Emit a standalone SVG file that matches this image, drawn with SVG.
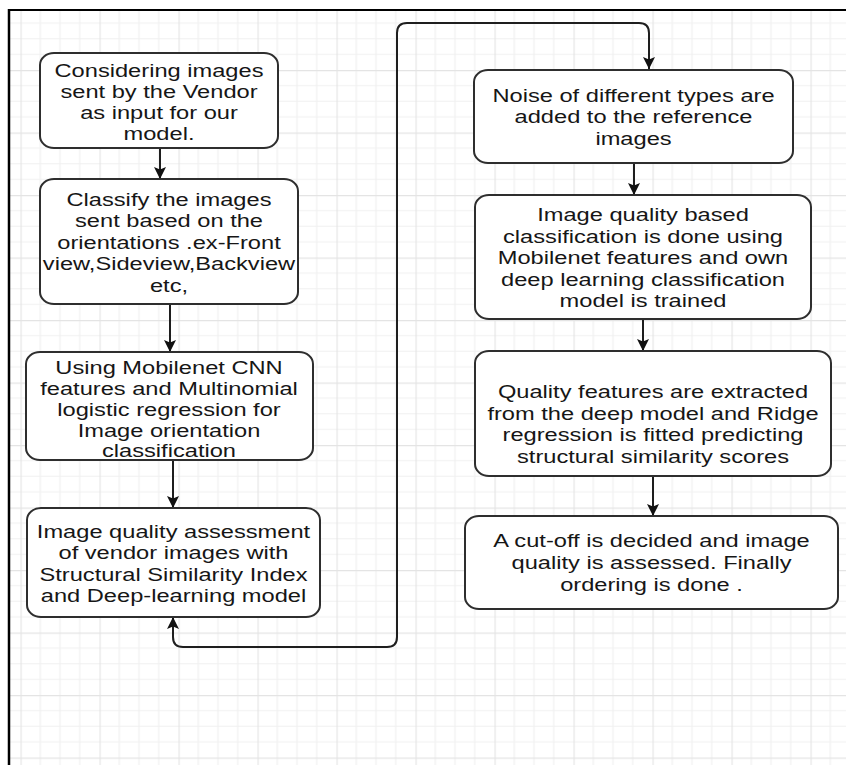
<svg xmlns="http://www.w3.org/2000/svg" width="846" height="765" viewBox="0 0 846 765">
<style>
.box{fill:#fff;stroke:#2e2e2e;stroke-width:2}
.lbl{font-family:"Liberation Sans",Arial,Helvetica,sans-serif;font-size:18.7px;fill:#161616;text-anchor:middle}
.con{fill:none;stroke:#1e1e1e;stroke-width:2}
</style>
<defs>
<pattern id="grid" x="20.5" y="7.5" width="79" height="62.5" patternUnits="userSpaceOnUse">
<g stroke="#f0f0f0" stroke-width="1.2">
<line x1="19.75" y1="0" x2="19.75" y2="62.5"/><line x1="39.5" y1="0" x2="39.5" y2="62.5"/><line x1="59.25" y1="0" x2="59.25" y2="62.5"/>
<line x1="0" y1="15.625" x2="79" y2="15.625"/><line x1="0" y1="31.25" x2="79" y2="31.25"/><line x1="0" y1="46.875" x2="79" y2="46.875"/>
</g>
<g stroke="#e4e4e4" stroke-width="1.3">
<line x1="0.5" y1="0" x2="0.5" y2="62.5"/><line x1="0" y1="0.5" x2="79" y2="0.5"/>
</g>
</pattern>
<marker id="arr" viewBox="0 0 12 12" refX="12" refY="6" markerWidth="12" markerHeight="12" markerUnits="userSpaceOnUse" orient="auto-start-reverse">
<path d="M0,0 L12,6 L0,12 L2.5,6 Z" fill="#111"/>
</marker>
</defs>
<rect x="0" y="0" width="846" height="765" fill="#fff"/>
<rect x="10" y="11" width="836" height="754" fill="url(#grid)"/>
<line x1="8" y1="10" x2="846" y2="10" stroke="#000" stroke-width="2"/>
<line x1="9" y1="9" x2="9" y2="765" stroke="#000" stroke-width="2.5"/>

<g id="connectors">
<line class="con" x1="160" y1="148" x2="160" y2="179" marker-end="url(#arr)"/>
<line class="con" x1="170" y1="304" x2="170" y2="352" marker-end="url(#arr)"/>
<line class="con" x1="173" y1="460" x2="173" y2="508" marker-end="url(#arr)"/>
<line class="con" x1="634" y1="163" x2="634" y2="195" marker-end="url(#arr)"/>
<line class="con" x1="643" y1="319" x2="643" y2="351" marker-end="url(#arr)"/>
<line class="con" x1="653" y1="476" x2="653" y2="516" marker-end="url(#arr)"/>
<path class="con" d="M173,617 V637 Q173,647 183,647 H387 Q397,647 397,637 V33 Q397,23 407,23 H639 Q649,23 649,33 V69" marker-start="url(#arr)" marker-end="url(#arr)"/>
</g>

<g id="n1">
<rect class="box" x="40" y="53" width="238" height="95" rx="14" ry="12"/>
<text class="lbl" transform="translate(159 0) scale(1.265 1)"><tspan x="0" y="77.5">Considering images</tspan><tspan x="0" y="98.5">sent by the Vendor</tspan><tspan x="0" y="119.5">as input for our</tspan><tspan x="0" y="140.5">model.</tspan></text>
</g>
<g id="n2">
<rect class="box" x="40" y="179" width="258" height="125" rx="14" ry="12"/>
<text class="lbl" transform="translate(169 0) scale(1.265 1)"><tspan x="0" y="206">Classify the images</tspan><tspan x="0" y="227.5">sent based on the</tspan><tspan x="0" y="249">orientations .ex-Front</tspan><tspan x="0" y="270.5">view,Sideview,Backview</tspan><tspan x="0" y="292">etc,</tspan></text>
</g>
<g id="n3">
<rect class="box" x="26" y="352" width="287" height="108" rx="14" ry="12"/>
<text class="lbl" transform="translate(169 0) scale(1.265 1)"><tspan x="0" y="374">Using Mobilenet CNN</tspan><tspan x="0" y="395">features and Multinomial</tspan><tspan x="0" y="416">logistic regression for</tspan><tspan x="0" y="437">Image orientation</tspan><tspan x="0" y="457.5">classification</tspan></text>
</g>
<g id="n4">
<rect class="box" x="27" y="508" width="293" height="109" rx="14" ry="12"/>
<text class="lbl" transform="translate(173.5 0) scale(1.265 1)"><tspan x="0" y="538">Image quality assessment</tspan><tspan x="0" y="559.5">of vendor images with</tspan><tspan x="0" y="581">Structural Similarity Index</tspan><tspan x="0" y="602.5">and Deep-learning model</tspan></text>
</g>
<g id="n5">
<rect class="box" x="474" y="70" width="319" height="93" rx="14" ry="12"/>
<text class="lbl" transform="translate(633.5 0) scale(1.265 1)"><tspan x="0" y="102">Noise of different types are</tspan><tspan x="0" y="123.5">added to the reference</tspan><tspan x="0" y="145">images</tspan></text>
</g>
<g id="n6">
<rect class="box" x="475" y="195" width="336" height="124" rx="14" ry="12"/>
<text class="lbl" transform="translate(643 0) scale(1.265 1)"><tspan x="0" y="221.5">Image quality based</tspan><tspan x="0" y="243">classification is done using</tspan><tspan x="0" y="264.5">Mobilenet features and own</tspan><tspan x="0" y="286">deep learning classification</tspan><tspan x="0" y="307.5">model is trained</tspan></text>
</g>
<g id="n7">
<rect class="box" x="475" y="351" width="356" height="125" rx="14" ry="12"/>
<text class="lbl" transform="translate(653 0) scale(1.265 1)"><tspan x="0" y="398.5">Quality features are extracted</tspan><tspan x="0" y="420">from the deep model and Ridge</tspan><tspan x="0" y="441.5">regression is fitted predicting</tspan><tspan x="0" y="463.5">structural similarity scores</tspan></text>
</g>
<g id="n8">
<rect class="box" x="465" y="516" width="373" height="93" rx="14" ry="12"/>
<text class="lbl" transform="translate(651.5 0) scale(1.265 1)"><tspan x="0" y="547">A cut-off is decided and image</tspan><tspan x="0" y="569">quality is assessed. Finally</tspan><tspan x="0" y="591">ordering is done .</tspan></text>
</g>
</svg>
